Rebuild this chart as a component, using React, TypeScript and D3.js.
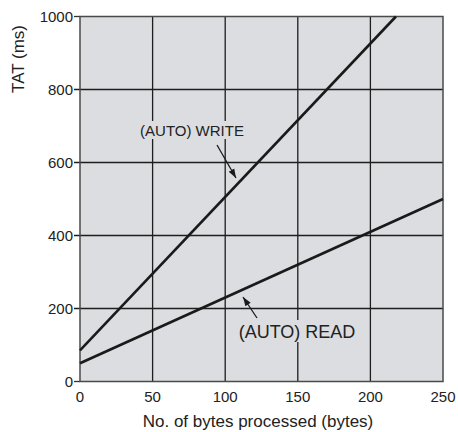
import React from "react";
import * as d3 from "d3";

const xTicks = [0, 50, 100, 150, 200, 250];
const yTicks = [0, 200, 400, 600, 800, 1000];
const writeBytes = [0, 217.6];
const writeTat = [85, 1000];
const readBytes = [0, 250];
const readTat = [50, 500];
const xTitle = "No. of bytes processed (bytes)";
const yTitle = "TAT (ms)";
const writeLabel = "(AUTO) WRITE";
const readLabel = "(AUTO) READ";

const W = 458, H = 432;
const m = { left: 80, right: 15, top: 16.5, bottom: 50.5 };

export default function App() {
  const x = d3.scaleLinear().domain([0, 250]).range([m.left, W - m.right]);
  const y = d3.scaleLinear().domain([0, 1000]).range([H - m.bottom, m.top]);
  const line = d3.line<[number, number]>().x(d => x(d[0])).y(d => y(d[1]));
  const writePts = writeBytes.map((b, i) => [b, writeTat[i]] as [number, number]);
  const readPts = readBytes.map((b, i) => [b, readTat[i]] as [number, number]);
  const font = "'Liberation Sans', Arial, Helvetica, sans-serif";
  const bg = "#dcdde0";
  return (
    <svg width={W} height={H} style={{ position: "absolute", left: 0, top: 0, background: "#fff" }} fontFamily={font}>
      <defs>
        <marker id="ah" viewBox="0 0 10 10" refX="10" refY="5" markerWidth="7" markerHeight="7" orient="auto-start-reverse">
          <path d="M0,1.5 L10,5 L0,8.5 z" fill="#1a1a1a" />
        </marker>
      </defs>
      <rect x={x(0)} y={y(1000)} width={x(250) - x(0)} height={y(0) - y(1000)} fill={bg} />
      {xTicks.slice(1, -1).map(t => (
        <line key={"gx" + t} x1={x(t)} x2={x(t)} y1={y(0)} y2={y(1000)} stroke="#1e1e1e" strokeWidth={1.3} />
      ))}
      {yTicks.slice(1, -1).map(t => (
        <line key={"gy" + t} x1={x(0) - 6} x2={x(250)} y1={y(t)} y2={y(t)} stroke="#1e1e1e" strokeWidth={1.3} />
      ))}
      {[0, 1000].map(t => (
        <line key={"ty" + t} x1={x(0) - 6} x2={x(0)} y1={y(t)} y2={y(t)} stroke="#333" strokeWidth={1.3} />
      ))}
      <rect x={x(0)} y={y(1000)} width={x(250) - x(0)} height={y(0) - y(1000)} fill="none" stroke="#4a4a4a" strokeWidth={1.5} />
      <path d={line(writePts) || ""} fill="none" stroke="#1a1a1a" strokeWidth={2.6} />
      <path d={line(readPts) || ""} fill="none" stroke="#1a1a1a" strokeWidth={2.6} />
      {/* labels with background boxes */}
      <rect x={136} y={121} width={112} height={18} fill={bg} />
      <text x={192} y={136} fontSize={15} textAnchor="middle" fill="#222">{writeLabel}</text>
      <line x1={217} y1={145} x2={236} y2={178} stroke="#1a1a1a" strokeWidth={1.3} markerEnd="url(#ah)" />
      <rect x={235} y={320} width={124} height={22} fill={bg} />
      <text x={297} y={338} fontSize={18} textAnchor="middle" fill="#222">{readLabel}</text>
      <line x1={257} y1={318} x2={243} y2={297} stroke="#1a1a1a" strokeWidth={1.3} markerEnd="url(#ah)" />
      {yTicks.map(t => (
        <text key={"yl" + t} x={t === 0 ? x(0) - 7 : x(0) - 7} y={y(t) + 5} fontSize={15} textAnchor="end" fill="#222">{t}</text>
      ))}
      {xTicks.map(t => (
        <text key={"xl" + t} x={x(t)} y={402} fontSize={15} textAnchor="middle" fill="#222">{t}</text>
      ))}
      <text x={258} y={427} fontSize={17} textAnchor="middle" fill="#222">{xTitle}</text>
      <text transform={`translate(24,59) rotate(-90)`} fontSize={17} textAnchor="middle" fill="#222">{yTitle}</text>
    </svg>
  );
}
